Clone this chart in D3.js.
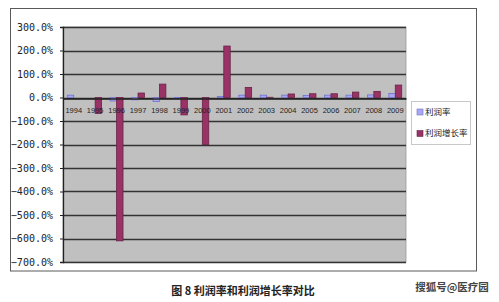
<!DOCTYPE html>
<html>
<head>
<meta charset="utf-8">
<script src="https://cdn.jsdelivr.net/npm/d3@7"></script>
<style>
  html, body { margin: 0; padding: 0; background: #fff; }
  svg { display: block; }
</style>
</head>
<body>
<svg id="chart" width="499" height="302"></svg>
<script>
// Years on the category axis
const years = ["1994","1995","1996","1997","1998","1999","2000","2001",
               "2002","2003","2004","2005","2006","2007","2008","2009"];
// Series names
const seriesNames = ["利润率", "利润增长率"];
// 利润率 (%)
const profitRate = [10, 0, -15, -10, -17, -2, 0, 4, 10, 10, 10, 9, 10, 10, 11, 17];
// 利润增长率 (%)
const profitGrowth = [0, -68, -610, 19, 57, -74, -200, 219, 43, 1, 15, 16, 16, 23, 26, 53];
// Value-axis ticks (%)
const yTicks = [300, 200, 100, 0, -100, -200, -300, -400, -500, -600, -700];
const caption = "图 8 利润率和利润增长率对比";
const watermark = "搜狐号@医疗园";

const svg = d3.select("#chart");

// Chart frame
svg.append("rect")
  .attr("x", 10.5).attr("y", 8.5).attr("width", 466).attr("height", 262.5)
  .attr("fill", "#fff").attr("stroke", "#5a5a5a").attr("stroke-width", 1);

const plot = { left: 63, top: 27, right: 406, bottom: 262 };

const y = d3.scaleLinear().domain([-700, 300]).range([plot.bottom, plot.top]);
const x0 = d3.scaleBand().domain(years).range([plot.left, plot.right]).padding(0);
const x1 = d3.scaleBand().domain(seriesNames)
  .range([x0.bandwidth() * 0.2, x0.bandwidth() * 0.8]).padding(0);

// Plot background
svg.append("rect")
  .attr("x", plot.left).attr("y", plot.top)
  .attr("width", plot.right - plot.left).attr("height", plot.bottom - plot.top)
  .attr("fill", "#c0c0c0").attr("stroke", "#9a9a9a").attr("stroke-width", 0.8);

// Horizontal gridlines
svg.append("g")
  .selectAll("line")
  .data(yTicks)
  .join("line")
  .attr("x1", plot.left).attr("x2", plot.right)
  .attr("y1", d => Math.round(y(d)) + 0.5).attr("y2", d => Math.round(y(d)) + 0.5)
  .attr("stroke", "#333").attr("stroke-width", 1.3);

// Value axis
const yAxis = d3.axisLeft(y)
  .tickValues(yTicks)
  .tickSize(3)
  .tickPadding(7)
  .tickFormat(d => d3.format(".1f")(d) + "%");

const gy = svg.append("g")
  .attr("transform", `translate(${plot.left},0)`)
  .call(yAxis);
gy.select(".domain").attr("stroke", "#222").attr("stroke-width", 1.3);
gy.selectAll(".tick line").attr("stroke", "#222");
gy.selectAll(".tick text")
  .attr("fill", "#222")
  .style("font-family", "'DejaVu Sans Mono', monospace")
  .style("font-size", "10px");

// Bars
const seriesData = [profitRate, profitGrowth];
const fills = ["#a9a9f2", "#993366"];
const strokes = ["#6f6fd0", "#6a2246"];

seriesData.forEach((vals, si) => {
  svg.append("g")
    .selectAll("rect")
    .data(years.map((yr, i) => ({ yr, v: vals[i] })))
    .join("rect")
    .attr("x", d => x0(d.yr) + x1(seriesNames[si]))
    .attr("width", x1.bandwidth())
    .attr("y", d => y(Math.max(0, d.v)))
    .attr("height", d => Math.abs(y(d.v) - y(0)))
    .attr("fill", fills[si])
    .attr("stroke", strokes[si])
    .attr("stroke-width", 0.8);
});

// Category axis along zero
const xAxis = d3.axisBottom(x0).tickSize(0).tickPadding(9);
const gx = svg.append("g")
  .attr("transform", `translate(0,${Math.round(y(0)) + 0.5})`)
  .call(xAxis);
gx.select(".domain").attr("stroke", "#222").attr("stroke-width", 1.3);
gx.selectAll(".tick text")
  .attr("fill", "#222")
  .style("font-family", "'Liberation Sans', sans-serif")
  .style("font-size", "7.5px");

// Legend
const legend = svg.append("g");
legend.append("rect")
  .attr("x", 411.5).attr("y", 101.5).attr("width", 59).attr("height", 43)
  .attr("fill", "#fff").attr("stroke", "#c8c8c8");
seriesNames.forEach((name, i) => {
  const cy = 112 + i * 21.5;
  legend.append("rect")
    .attr("x", 417).attr("y", cy - 3).attr("width", 6).attr("height", 6)
    .attr("fill", fills[i]).attr("stroke", strokes[i]).attr("stroke-width", 0.6);
  legend.append("text")
    .attr("x", 425).attr("y", cy).attr("dy", "0.35em")
    .attr("fill", "#222")
    .style("font-family", "'Noto Sans CJK SC', sans-serif")
    .style("font-size", "8.5px")
    .text(name);
});

// Caption
svg.append("text")
  .attr("x", 243).attr("y", 291).attr("dy", "0.35em")
  .attr("text-anchor", "middle")
  .attr("fill", "#222")
  .style("font-family", "'Noto Sans CJK SC', sans-serif")
  .style("font-size", "11px")
  .style("font-weight", "bold")
  .text(caption);

// Watermark
svg.append("text")
  .attr("x", 452).attr("y", 287).attr("dy", "0.35em")
  .attr("text-anchor", "middle")
  .attr("fill", "#444")
  .style("font-family", "'Noto Sans CJK SC', sans-serif")
  .style("font-size", "10.5px")
  .style("font-weight", "bold")
  .text(watermark);
</script>
</body>
</html>
